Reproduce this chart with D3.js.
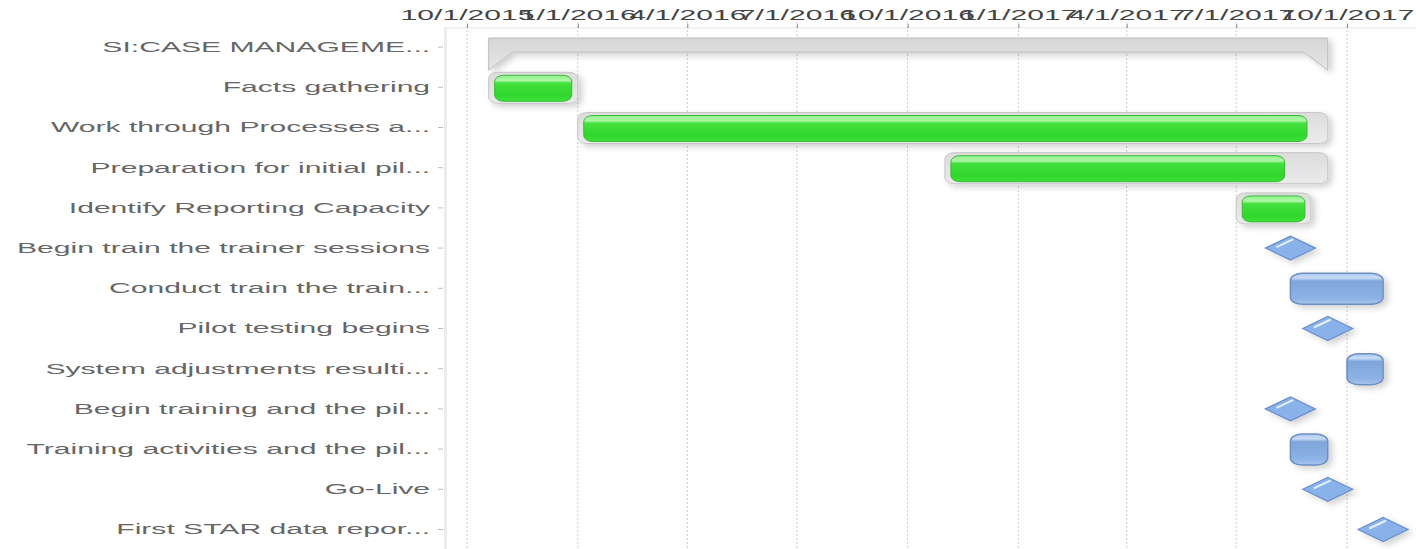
<!DOCTYPE html>
<html lang="en">
<head>
  <meta charset="utf-8" />
  <title>Project Gantt</title>
  <script src="https://d3js.org/d3.v7.min.js"></script>
  <style>
    body { margin: 0; padding: 0; background: #ffffff; }
    svg text { font-family: "Liberation Sans", Arial, sans-serif; font-size: 14px; fill: #666; }
    .grid line { stroke: #cdcdcd; stroke-dasharray: 2,2; }
  </style>
</head>
<body>
<div id="chart"></div>
<script>
// ---- data ----
const tasks = [
  "SI:CASE MANAGEME...",
  "Facts gathering",
  "Work through Processes a...",
  "Preparation for initial pil...",
  "Identify Reporting Capacity",
  "Begin train the trainer sessions",
  "Conduct train the train...",
  "Pilot testing begins",
  "System adjustments resulti...",
  "Begin training and the pil...",
  "Training activities and the pil...",
  "Go-Live",
  "First STAR data repor..."
];
const kinds = ["summary", "task", "task", "task", "task", "milestone", "plan",
               "milestone", "plan", "milestone", "plan", "milestone", "milestone"];
const starts = ["2015-10-19", "2015-10-19", "2016-01-01", "2016-11-01", "2017-07-01", "2017-08-15", "2017-08-15",
                "2017-09-15", "2017-10-01", "2017-08-15", "2017-08-15", "2017-09-15", "2017-10-31"];
const ends   = ["2017-09-15", "2016-01-01", "2017-09-15", "2017-09-15", "2017-09-01", "2017-08-15", "2017-10-31",
                "2017-09-15", "2017-10-31", "2017-08-15", "2017-09-15", "2017-09-15", "2017-10-31"];
const progress = [1, 1, 0.98, 0.9, 1, 0, 0, 0, 0, 0, 0, 0, 0];
const tickDates = ["2015-10-01", "2016-01-01", "2016-04-01", "2016-07-01", "2016-10-01",
                   "2017-01-01", "2017-04-01", "2017-07-01", "2017-10-01"];

// ---- setup ----
const W = 1416, H = 549;
const SX = 2.15;  // the picture is stretched sideways
const parse = d3.timeParse("%Y-%m-%d");
const fmt = d3.timeFormat("%-m/%-d/%Y");

const rows = tasks.map((t, i) => ({
  name: t, kind: kinds[i], start: parse(starts[i]), end: parse(ends[i]), pct: progress[i]
}));

const svg = d3.select("#chart").append("svg")
  .attr("width", W).attr("height", H);

const defs = svg.append("defs");
const grad = (id, stops) => {
  const g = defs.append("linearGradient").attr("id", id)
    .attr("x1", 0).attr("y1", 0).attr("x2", 0).attr("y2", 1);
  stops.forEach(s => g.append("stop").attr("offset", s[0]).attr("stop-color", s[1]));
};
grad("gGreen", [[0, "#8ef28a"], [0.2, "#aef7a6"], [0.3, "#44e03f"], [0.75, "#2fd62b"], [1, "#3ee23a"]]);
grad("gBlue", [[0, "#a9c6ee"], [0.15, "#c9dcf6"], [0.25, "#7fa5db"], [0.8, "#8db2e6"], [1, "#a6c5f0"]]);
grad("gGrey", [[0, "#dcdcdc"], [1, "#ebebeb"]]);
grad("gSum", [[0, "#d6d6d6"], [1, "#e6e6e6"]]);

const shadow = defs.append("filter").attr("id", "shadow")
  .attr("x", "-20%").attr("y", "-40%").attr("width", "150%").attr("height", "200%");
shadow.append("feDropShadow").attr("dx", 4).attr("dy", 3).attr("stdDeviation", 3)
  .attr("flood-color", "#000").attr("flood-opacity", 0.18);

const x = d3.scaleTime()
  .domain([parse("2015-10-01"), parse("2017-10-01")])
  .range([467, 1347]);

const y = d3.scaleBand()
  .domain(tasks)
  .range([27, 27 + 13 * 40.2])
  .padding(0);
const cy = d => y(d.name) + y.bandwidth() / 2;

// plot frame
svg.append("rect").attr("x", 444).attr("y", 28).attr("width", 3).attr("height", H - 28).attr("fill", "#ececec");
svg.append("line").attr("x1", 444).attr("x2", W).attr("y1", 28).attr("y2", 28).attr("stroke", "#e4e4e4");

// grid
svg.append("g").attr("class", "grid")
  .selectAll("line").data(tickDates.map(parse)).join("line")
  .attr("x1", d => x(d)).attr("x2", d => x(d))
  .attr("y1", 22).attr("y2", H);

// top axis
const xAxis = svg.append("g").attr("transform", "translate(0,28)")
  .call(d3.axisTop(x).tickValues(tickDates.map(parse)).tickFormat(fmt).tickSize(4).tickPadding(2));
xAxis.select(".domain").remove();
xAxis.selectAll(".tick line").attr("stroke", "#888");
xAxis.selectAll("text").attr("transform", `scale(${SX},1)`).attr("y", -8)
  .style("fill", "#444");

// left axis
const yAxis = svg.append("g").attr("transform", "translate(443,0)")
  .call(d3.axisLeft(y).tickSize(5).tickPadding(1));
yAxis.select(".domain").remove();
yAxis.selectAll(".tick line").attr("stroke", "#bbb");
yAxis.selectAll("text").attr("transform", `scale(${SX},1)`).attr("dy", "0.35em");

const marks = svg.append("g");

// summary bracket
rows.filter(d => d.kind === "summary").forEach(d => {
  const x0 = x(d.start), x1 = x(d.end), c = cy(d);
  const top = c - 9, bot = c + 5, tip = c + 23;
  marks.append("path")
    .attr("d", `M${x0},${top}H${x1}V${tip}L${x1 - 24},${bot}H${x0 + 24}L${x0},${tip}Z`)
    .attr("fill", "url(#gSum)").attr("stroke", "#bdbdbd").attr("filter", "url(#shadow)");
});

// tasks with progress
rows.filter(d => d.kind === "task").forEach(d => {
  const x0 = x(d.start), x1 = x(d.end), c = cy(d);
  marks.append("rect")
    .attr("x", x0).attr("y", c - 15).attr("width", x1 - x0).attr("height", 31)
    .attr("rx", 9).attr("ry", 6)
    .attr("fill", "url(#gGrey)").attr("stroke", "#c6c6c6").attr("filter", "url(#shadow)");
  const inner = (x1 - x0) - 12;
  marks.append("rect")
    .attr("x", x0 + 6).attr("y", c - 12).attr("width", inner * d.pct).attr("height", 26)
    .attr("rx", 9).attr("ry", 6)
    .attr("fill", "url(#gGreen)").attr("stroke", "#3cb83a").attr("stroke-width", 1);
});

// planned tasks (blue)
rows.filter(d => d.kind === "plan").forEach(d => {
  const x0 = x(d.start), x1 = x(d.end), c = cy(d);
  marks.append("rect")
    .attr("x", x0).attr("y", c - 15).attr("width", x1 - x0).attr("height", 31)
    .attr("rx", 12).attr("ry", 7)
    .attr("fill", "url(#gBlue)").attr("stroke", "#6d8fc2").attr("stroke-width", 1.5)
    .attr("filter", "url(#shadow)");
});

// milestones
rows.filter(d => d.kind === "milestone").forEach(d => {
  const mx = x(d.start), c = cy(d);
  marks.append("path")
    .attr("d", `M${mx - 25},${c}L${mx},${c - 12}L${mx + 25},${c}L${mx},${c + 12}Z`)
    .attr("fill", "#8ab2ea").attr("stroke", "#6a8ecb").attr("stroke-width", 1.2)
    .attr("filter", "url(#shadow)");
  marks.append("line")
    .attr("x1", mx - 14).attr("y1", c - 1).attr("x2", mx + 3).attr("y2", c - 9)
    .attr("stroke", "#e6f0fc").attr("stroke-width", 2);
});
</script>
</body>
</html>
